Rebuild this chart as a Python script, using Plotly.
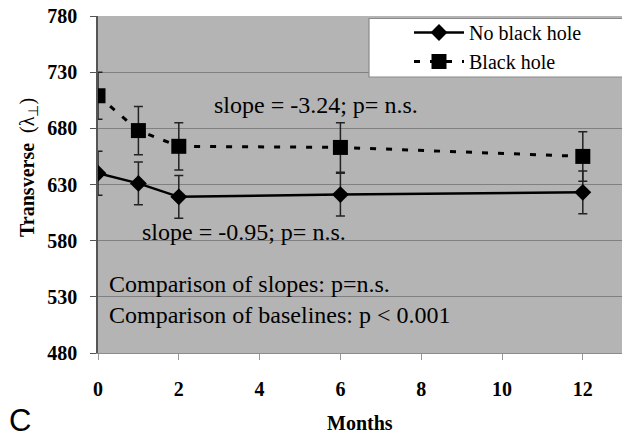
import plotly.graph_objects as go

months = [0, 1, 2, 6, 12]
no_bh = [640, 631, 619, 621, 623]
no_bh_err = [19.5, 19, 19, 19, 19]
bh = [709, 678, 664, 663, 655]
bh_err = [21, 21.5, 21, 22, 22]
x_ticks = [0, 2, 4, 6, 8, 10, 12]
y_ticks = [480, 530, 580, 630, 680, 730, 780]

W, H = 622, 434
L, R, T, B = 98, 0, 16, 81
SERIF = "Liberation Serif"

def px(xp):
    return (xp - L) / (W - L - R)

def py(yp):
    return 1 - (yp - T) / (H - T - B)

fig = go.Figure()

# error bars (no legend)
for ys, es in ((no_bh, no_bh_err), (bh, bh_err)):
    fig.add_trace(go.Scatter(
        x=months, y=ys, mode="markers", showlegend=False, hoverinfo="skip",
        marker=dict(size=1, opacity=0),
        error_y=dict(type="data", array=es, visible=True, color="#222222",
                     thickness=1.5, width=4.5),
    ))

fig.add_trace(go.Scatter(
    x=months, y=no_bh, mode="lines+markers", name="No black hole",
    line=dict(color="black", width=2.5),
    marker=dict(symbol="diamond", size=13, color="black"),
))
fig.add_trace(go.Scatter(
    x=months, y=bh, mode="lines+markers", name="Black hole",
    line=dict(color="black", width=3, dash="6px,10px"),
    marker=dict(symbol="square", size=15, color="black"),
))

annots = [
    ("slope = -3.24; p= n.s.", 212, 105),
    ("slope = -0.95; p= n.s.", 140, 232),
    ("Comparison of slopes: p=n.s.", 107, 284),
    ("Comparison of baselines: p < 0.001", 107, 315),
]
for txt, xl, yc in annots:
    fig.add_annotation(text=txt, xref="paper", yref="paper", x=px(xl), y=py(yc),
                       xanchor="left", yanchor="middle", showarrow=False,
                       font=dict(family=SERIF, size=24, color="black"))

fig.add_annotation(text="<b>Transverse</b>  (λ<sub>⊥</sub>)", xref="paper", yref="paper",
                   x=px(28), y=py(168), textangle=-90, showarrow=False,
                   xanchor="center", yanchor="middle",
                   font=dict(family=SERIF, size=20, color="black"))
fig.add_annotation(text="<b>Months</b>", xref="paper", yref="paper",
                   x=px(360), y=py(423), showarrow=False,
                   xanchor="center", yanchor="middle",
                   font=dict(family=SERIF, size=20, color="black"))
fig.add_annotation(text="C", xref="paper", yref="paper",
                   x=px(20), y=py(420), showarrow=False,
                   xanchor="center", yanchor="middle",
                   font=dict(family="Liberation Sans", size=31, color="black"))

# legend box
fig.add_shape(type="rect", xref="paper", yref="paper",
              x0=px(369), x1=px(640), y0=py(77), y1=py(18.5),
              fillcolor="white", line=dict(color="#8a8a8a", width=1.2), layer="above")

fig.update_layout(
    width=W, height=H,
    margin=dict(l=L, r=R, t=T, b=B),
    paper_bgcolor="white", plot_bgcolor="#b4b4b4",
    showlegend=True,
    legend=dict(x=px(409), y=py(13), xanchor="left", yanchor="top",
                bgcolor="rgba(0,0,0,0)", borderwidth=0,
                font=dict(family=SERIF, size=20, color="black"),
                itemwidth=50, tracegroupgap=0),
    xaxis=dict(range=[0, 12.97], tickvals=x_ticks, ticktext=[str(v) for v in x_ticks],
               showgrid=False, zeroline=False, showline=True, linecolor="#8c8c8c",
               linewidth=1.2, ticks="outside", ticklen=6, tickcolor="#999999",
               tickfont=dict(family=SERIF, size=20, color="black", weight="bold"),
               ticklabelstandoff=12),
    yaxis=dict(range=[480, 780], tickvals=y_ticks, ticktext=[str(v) for v in y_ticks],
               showgrid=True, gridcolor="#808080", gridwidth=1.2, zeroline=False,
               showline=True, linecolor="#555555", linewidth=1.5,
               ticks="outside", ticklen=6, tickcolor="#555555",
               tickfont=dict(family=SERIF, size=20, color="black", weight="bold"),
               ticklabelstandoff=9),
)

fig.write_html("out.html", config={"displayModeBar": False},
               post_script="document.body.style.margin='0';")
